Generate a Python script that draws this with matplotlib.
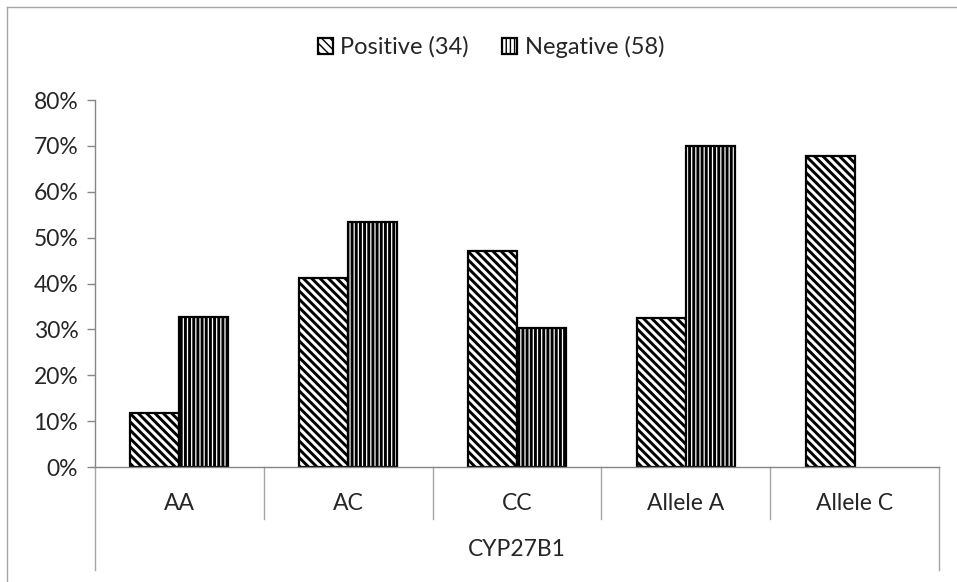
import matplotlib
matplotlib.use("Agg")
import matplotlib.pyplot as plt
import matplotlib.transforms as mtransforms
from matplotlib.lines import Line2D
import numpy as np

plt.rcParams['font.family'] = ['Lato', 'DejaVu Sans']

# genotype / allele frequencies for CYP27B1
categories = ["AA", "AC", "CC", "Allele A", "Allele C"]
group_label = "CYP27B1"
positive = [11.8, 41.2, 47.1, 32.4, 67.8]
negative = [32.8, 53.4, 30.3, 70.0, np.nan]
series_names = ["Positive (34)", "Negative (58)"]
yticks = [0, 10, 20, 30, 40, 50, 60, 70, 80]

W, H = 957, 582
fig = plt.figure(figsize=(W / 100, H / 100), dpi=100)
ax = fig.add_axes([95 / W, 115 / H, 844 / W, 367 / H])

grey = "#868686"
txt = "#262626"
fs = 16.5
x = np.arange(len(categories))
bw = 0.29

b1 = ax.bar(x - bw / 2, positive, bw, color="white", edgecolor="black",
            linewidth=1.6, hatch="\\\\\\\\", label=series_names[0])
b2 = ax.bar(x + bw / 2, negative, bw, color="white", edgecolor="black",
            linewidth=1.6, hatch="||||", label=series_names[1])
for p in list(b1) + list(b2):
    try:
        p.set_hatch_linewidth(2.1)
    except AttributeError:
        pass

ax.set_xlim(-0.5, len(categories) - 0.5)
ax.set_ylim(0, 80)
ax.set_yticks(yticks)
ax.set_yticklabels([f"{t}%" for t in yticks])
ax.tick_params(axis="y", length=6, width=1, color=grey, labelsize=fs,
               pad=6, labelcolor=txt)
ax.set_xticks([])

for side in ("top", "right"):
    ax.spines[side].set_visible(False)
for side in ("left", "bottom"):
    ax.spines[side].set_color(grey)
    ax.spines[side].set_linewidth(1)

# two-level category axis drawn below the plot
trans = mtransforms.blended_transform_factory(ax.transData, fig.transFigure)
for i in range(len(categories) + 1):
    xb = i - 0.5
    outer = i in (0, len(categories))
    y_end = 12 / H if outer else 63 / H
    ax.add_line(Line2D([xb, xb], [115 / H, y_end], transform=trans,
                       color="#a6a6a6", linewidth=1, clip_on=False))
for i, c in enumerate(categories):
    fig.text(0, 0, c, transform=trans, fontsize=fs, ha="center",
             va="center", color=txt).set_position((i, (H - 503) / H))
fig.text(0, 0, group_label, transform=trans, fontsize=fs, ha="center",
         va="center", color=txt).set_position(
    ((len(categories) - 1) / 2, (H - 549) / H))

# outer chart frame
fig.add_artist(Line2D([7.5 / W, 7.5 / W], [0, 1 - 6.5 / H],
                      transform=fig.transFigure, color="#a6a6a6", linewidth=1))
fig.add_artist(Line2D([7.5 / W, 1], [1 - 6.5 / H, 1 - 6.5 / H],
                      transform=fig.transFigure, color="#a6a6a6", linewidth=1))

fig.legend(handles=[b1, b2], loc="center", bbox_to_anchor=(491 / W, 1 - 47 / H),
           ncol=2, frameon=False, fontsize=fs + 0.5, handlelength=0.65,
           handleheight=0.65, handletextpad=0.3, columnspacing=1.4,
           labelcolor=txt)

fig.savefig("out.png", dpi=100)
